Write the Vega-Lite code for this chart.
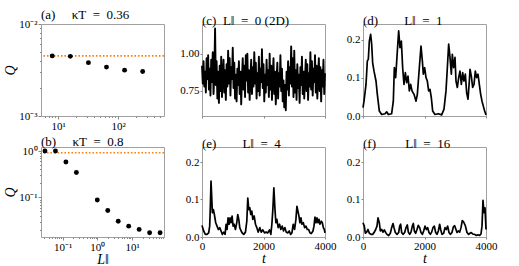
{
  "$schema": "https://vega.github.io/schema/vega-lite/v6.json",
  "padding": {"left": 3, "top": 8, "right": 2, "bottom": 2},
  "bounds": "flush",
  "columns": 3,
  "spacing": {"row": 31, "column": 38},
  "config": {
    "font": "Liberation Serif, serif",
    "view": {"stroke": "#a0a0a0", "strokeWidth": 1},
    "axis": {"domain": false, "grid": false, "labelFont": "Liberation Serif, serif", "labelFontSize": 11, "labelColor": "#000", "tickColor": "#888", "tickSize": 2, "labelPadding": 1, "labelOverlap": false, "labelFlush": false, "titleFont": "Liberation Serif, serif", "titleFontSize": 14, "titleFontWeight": "normal", "titleFontStyle": "italic", "titleColor": "#000"},
    "title": {"font": "Liberation Serif, serif", "fontSize": 13, "anchor": "start", "frame": "group", "offset": -4, "fontWeight": "normal", "color": "#000"}
  },
  "datasets": {
    "a": [{"L": 8, "Q": 0.0045}, {"L": 16, "Q": 0.00445}, {"L": 32, "Q": 0.0038}, {"L": 64, "Q": 0.0034}, {"L": 128, "Q": 0.00315}, {"L": 256, "Q": 0.00305}],
    "aRef": [{"Q": 0.0045}],
    "b": [{"L": 0.03125, "Q": 1.0}, {"L": 0.0625, "Q": 1.0}, {"L": 0.125, "Q": 0.58}, {"L": 0.25, "Q": 0.343}, {"L": 1, "Q": 0.088}, {"L": 2, "Q": 0.052}, {"L": 4, "Q": 0.0306}, {"L": 8, "Q": 0.024}, {"L": 16, "Q": 0.0204}, {"L": 32, "Q": 0.0173}, {"L": 64, "Q": 0.0173}],
    "bRef": [{"Q": 0.92}],
    "c": [{"t":0,"v":0.92},{"t":25,"v":0.80},{"t":50,"v":0.95},{"t":75,"v":0.78},{"t":100,"v":0.88},{"t":125,"v":0.74},{"t":150,"v":0.97},{"t":175,"v":0.83},{"t":200,"v":0.99},{"t":225,"v":0.76},{"t":250,"v":0.90},{"t":275,"v":0.72},{"t":300,"v":0.96},{"t":325,"v":0.81},{"t":350,"v":1.01},{"t":375,"v":0.73},{"t":400,"v":0.86},{"t":425,"v":1.17},{"t":450,"v":0.79},{"t":475,"v":0.95},{"t":500,"v":0.70},{"t":525,"v":0.88},{"t":550,"v":0.67},{"t":575,"v":0.92},{"t":600,"v":0.75},{"t":625,"v":0.98},{"t":650,"v":0.71},{"t":675,"v":0.84},{"t":700,"v":0.96},{"t":725,"v":0.74},{"t":750,"v":0.89},{"t":775,"v":0.69},{"t":800,"v":0.93},{"t":825,"v":0.78},{"t":850,"v":1.02},{"t":875,"v":0.80},{"t":900,"v":0.97},{"t":925,"v":0.72},{"t":950,"v":0.91},{"t":975,"v":0.83},{"t":1000,"v":1.04},{"t":1025,"v":0.77},{"t":1050,"v":0.94},{"t":1075,"v":0.70},{"t":1100,"v":0.86},{"t":1125,"v":0.68},{"t":1150,"v":0.90},{"t":1175,"v":0.79},{"t":1200,"v":0.95},{"t":1225,"v":0.73},{"t":1250,"v":0.88},{"t":1275,"v":0.66},{"t":1300,"v":0.84},{"t":1325,"v":0.97},{"t":1350,"v":0.76},{"t":1375,"v":0.92},{"t":1400,"v":0.71},{"t":1425,"v":0.99},{"t":1450,"v":0.82},{"t":1475,"v":1.00},{"t":1500,"v":0.74},{"t":1525,"v":0.89},{"t":1550,"v":0.69},{"t":1575,"v":0.85},{"t":1600,"v":0.96},{"t":1625,"v":0.73},{"t":1650,"v":0.91},{"t":1675,"v":0.78},{"t":1700,"v":1.01},{"t":1725,"v":0.80},{"t":1750,"v":0.94},{"t":1775,"v":0.70},{"t":1800,"v":0.87},{"t":1825,"v":0.75},{"t":1850,"v":0.98},{"t":1875,"v":0.72},{"t":1900,"v":0.90},{"t":1925,"v":0.81},{"t":1950,"v":1.03},{"t":1975,"v":0.77},{"t":2000,"v":0.93},{"t":2025,"v":0.68},{"t":2050,"v":0.86},{"t":2075,"v":0.74},{"t":2100,"v":0.96},{"t":2125,"v":0.79},{"t":2150,"v":0.89},{"t":2175,"v":0.71},{"t":2200,"v":1.00},{"t":2225,"v":0.76},{"t":2250,"v":0.92},{"t":2275,"v":0.69},{"t":2300,"v":0.85},{"t":2325,"v":0.97},{"t":2350,"v":0.73},{"t":2375,"v":0.88},{"t":2400,"v":0.66},{"t":2425,"v":0.83},{"t":2450,"v":0.94},{"t":2475,"v":0.70},{"t":2500,"v":0.87},{"t":2525,"v":0.78},{"t":2550,"v":0.99},{"t":2575,"v":0.75},{"t":2600,"v":0.90},{"t":2625,"v":0.68},{"t":2650,"v":0.82},{"t":2675,"v":0.64},{"t":2700,"v":0.79},{"t":2725,"v":0.62},{"t":2750,"v":0.88},{"t":2775,"v":0.76},{"t":2800,"v":0.95},{"t":2825,"v":0.72},{"t":2850,"v":0.91},{"t":2875,"v":0.80},{"t":2900,"v":1.05},{"t":2925,"v":0.78},{"t":2950,"v":0.97},{"t":2975,"v":0.71},{"t":3000,"v":1.02},{"t":3025,"v":0.74},{"t":3050,"v":0.89},{"t":3075,"v":0.69},{"t":3100,"v":0.93},{"t":3125,"v":0.77},{"t":3150,"v":0.86},{"t":3175,"v":0.67},{"t":3200,"v":0.91},{"t":3225,"v":0.79},{"t":3250,"v":0.98},{"t":3275,"v":0.73},{"t":3300,"v":0.88},{"t":3325,"v":0.70},{"t":3350,"v":0.84},{"t":3375,"v":0.96},{"t":3400,"v":0.75},{"t":3425,"v":0.93},{"t":3450,"v":0.69},{"t":3475,"v":0.87},{"t":3500,"v":0.78},{"t":3525,"v":1.01},{"t":3550,"v":0.76},{"t":3575,"v":0.95},{"t":3600,"v":0.72},{"t":3625,"v":0.90},{"t":3650,"v":0.81},{"t":3675,"v":0.99},{"t":3700,"v":0.74},{"t":3725,"v":0.92},{"t":3750,"v":0.70},{"t":3775,"v":0.86},{"t":3800,"v":0.97},{"t":3825,"v":0.75},{"t":3850,"v":0.91},{"t":3875,"v":0.68},{"t":3900,"v":0.89},{"t":3925,"v":0.78},{"t":3950,"v":0.96},{"t":3975,"v":0.73},{"t":4000,"v":0.87}],
    "d": [{"t":0,"v":0.022},{"t":33,"v":0.039},{"t":98,"v":0.083},{"t":141,"v":0.145},{"t":173,"v":0.149},{"t":206,"v":0.197},{"t":249,"v":0.215},{"t":282,"v":0.189},{"t":314,"v":0.140},{"t":358,"v":0.118},{"t":423,"v":0.092},{"t":466,"v":0.057},{"t":531,"v":0.013},{"t":607,"v":0.004},{"t":715,"v":0.006},{"t":770,"v":0.011},{"t":824,"v":0.004},{"t":932,"v":0.006},{"t":986,"v":0.039},{"t":1019,"v":0.127},{"t":1062,"v":0.101},{"t":1117,"v":0.171},{"t":1160,"v":0.224},{"t":1203,"v":0.180},{"t":1247,"v":0.197},{"t":1290,"v":0.127},{"t":1333,"v":0.083},{"t":1377,"v":0.114},{"t":1420,"v":0.088},{"t":1463,"v":0.105},{"t":1507,"v":0.066},{"t":1550,"v":0.083},{"t":1594,"v":0.066},{"t":1659,"v":0.057},{"t":1724,"v":0.039},{"t":1767,"v":0.057},{"t":1832,"v":0.127},{"t":1886,"v":0.184},{"t":1930,"v":0.145},{"t":1962,"v":0.110},{"t":2005,"v":0.127},{"t":2049,"v":0.101},{"t":2092,"v":0.092},{"t":2135,"v":0.066},{"t":2179,"v":0.070},{"t":2222,"v":0.048},{"t":2266,"v":0.013},{"t":2341,"v":0.004},{"t":2450,"v":0.006},{"t":2558,"v":0.003},{"t":2634,"v":0.018},{"t":2699,"v":0.066},{"t":2743,"v":0.127},{"t":2786,"v":0.189},{"t":2829,"v":0.154},{"t":2873,"v":0.110},{"t":2905,"v":0.162},{"t":2948,"v":0.127},{"t":2992,"v":0.154},{"t":3024,"v":0.092},{"t":3068,"v":0.075},{"t":3111,"v":0.101},{"t":3154,"v":0.118},{"t":3198,"v":0.083},{"t":3241,"v":0.114},{"t":3284,"v":0.092},{"t":3328,"v":0.110},{"t":3371,"v":0.061},{"t":3415,"v":0.044},{"t":3458,"v":0.092},{"t":3480,"v":0.123},{"t":3523,"v":0.105},{"t":3566,"v":0.075},{"t":3610,"v":0.083},{"t":3653,"v":0.118},{"t":3696,"v":0.101},{"t":3740,"v":0.110},{"t":3783,"v":0.083},{"t":3827,"v":0.057},{"t":3870,"v":0.039},{"t":3913,"v":0.026},{"t":3957,"v":0.013},{"t":4000,"v":0.003}],
    "e": [{"t":0,"v":0.031},{"t":54,"v":0.016},{"t":109,"v":0.007},{"t":163,"v":0.007},{"t":217,"v":0.011},{"t":250,"v":0.029},{"t":272,"v":0.082},{"t":293,"v":0.149},{"t":315,"v":0.109},{"t":337,"v":0.065},{"t":370,"v":0.073},{"t":402,"v":0.060},{"t":446,"v":0.038},{"t":489,"v":0.029},{"t":533,"v":0.020},{"t":576,"v":0.025},{"t":620,"v":0.016},{"t":663,"v":0.007},{"t":707,"v":0.013},{"t":750,"v":0.007},{"t":783,"v":0.034},{"t":815,"v":0.020},{"t":848,"v":0.051},{"t":880,"v":0.034},{"t":913,"v":0.051},{"t":946,"v":0.038},{"t":978,"v":0.056},{"t":1011,"v":0.029},{"t":1044,"v":0.034},{"t":1087,"v":0.020},{"t":1130,"v":0.038},{"t":1163,"v":0.060},{"t":1196,"v":0.047},{"t":1228,"v":0.025},{"t":1272,"v":0.016},{"t":1315,"v":0.010},{"t":1359,"v":0.007},{"t":1413,"v":0.013},{"t":1457,"v":0.042},{"t":1489,"v":0.104},{"t":1522,"v":0.073},{"t":1554,"v":0.078},{"t":1587,"v":0.060},{"t":1620,"v":0.069},{"t":1652,"v":0.047},{"t":1696,"v":0.056},{"t":1739,"v":0.034},{"t":1783,"v":0.025},{"t":1826,"v":0.013},{"t":1881,"v":0.025},{"t":1924,"v":0.013},{"t":1978,"v":0.019},{"t":2033,"v":0.011},{"t":2087,"v":0.013},{"t":2141,"v":0.011},{"t":2196,"v":0.019},{"t":2239,"v":0.007},{"t":2272,"v":0.034},{"t":2304,"v":0.073},{"t":2337,"v":0.131},{"t":2370,"v":0.078},{"t":2402,"v":0.038},{"t":2435,"v":0.047},{"t":2478,"v":0.025},{"t":2522,"v":0.034},{"t":2565,"v":0.020},{"t":2609,"v":0.029},{"t":2652,"v":0.016},{"t":2696,"v":0.025},{"t":2739,"v":0.013},{"t":2794,"v":0.011},{"t":2837,"v":0.016},{"t":2881,"v":0.007},{"t":2924,"v":0.011},{"t":2967,"v":0.034},{"t":3011,"v":0.020},{"t":3054,"v":0.047},{"t":3087,"v":0.082},{"t":3120,"v":0.069},{"t":3152,"v":0.056},{"t":3185,"v":0.038},{"t":3218,"v":0.051},{"t":3250,"v":0.034},{"t":3294,"v":0.038},{"t":3337,"v":0.025},{"t":3381,"v":0.029},{"t":3424,"v":0.020},{"t":3468,"v":0.020},{"t":3511,"v":0.011},{"t":3554,"v":0.009},{"t":3609,"v":0.016},{"t":3641,"v":0.029},{"t":3674,"v":0.053},{"t":3707,"v":0.038},{"t":3739,"v":0.051},{"t":3772,"v":0.038},{"t":3805,"v":0.047},{"t":3837,"v":0.034},{"t":3881,"v":0.042},{"t":3913,"v":0.038},{"t":3946,"v":0.025},{"t":3978,"v":0.020},{"t":4000,"v":0.011}],
    "f": [{"t":0,"v":0.038},{"t":43,"v":0.029},{"t":76,"v":0.010},{"t":119,"v":0.013},{"t":163,"v":0.020},{"t":206,"v":0.010},{"t":260,"v":0.007},{"t":314,"v":0.007},{"t":369,"v":0.013},{"t":412,"v":0.020},{"t":455,"v":0.029},{"t":488,"v":0.051},{"t":531,"v":0.038},{"t":564,"v":0.016},{"t":607,"v":0.020},{"t":650,"v":0.013},{"t":694,"v":0.019},{"t":737,"v":0.012},{"t":780,"v":0.007},{"t":835,"v":0.004},{"t":889,"v":0.010},{"t":932,"v":0.025},{"t":976,"v":0.036},{"t":1008,"v":0.025},{"t":1051,"v":0.012},{"t":1106,"v":0.007},{"t":1160,"v":0.012},{"t":1192,"v":0.029},{"t":1225,"v":0.034},{"t":1257,"v":0.012},{"t":1301,"v":0.007},{"t":1355,"v":0.012},{"t":1398,"v":0.025},{"t":1442,"v":0.032},{"t":1474,"v":0.013},{"t":1518,"v":0.007},{"t":1561,"v":0.013},{"t":1604,"v":0.029},{"t":1637,"v":0.036},{"t":1669,"v":0.016},{"t":1713,"v":0.010},{"t":1756,"v":0.020},{"t":1799,"v":0.031},{"t":1843,"v":0.025},{"t":1886,"v":0.012},{"t":1930,"v":0.007},{"t":1973,"v":0.016},{"t":2016,"v":0.029},{"t":2060,"v":0.020},{"t":2103,"v":0.025},{"t":2146,"v":0.012},{"t":2190,"v":0.007},{"t":2233,"v":0.013},{"t":2276,"v":0.025},{"t":2320,"v":0.029},{"t":2363,"v":0.012},{"t":2406,"v":0.007},{"t":2450,"v":0.016},{"t":2493,"v":0.034},{"t":2526,"v":0.020},{"t":2569,"v":0.007},{"t":2623,"v":0.010},{"t":2667,"v":0.025},{"t":2710,"v":0.020},{"t":2753,"v":0.029},{"t":2797,"v":0.012},{"t":2840,"v":0.007},{"t":2894,"v":0.012},{"t":2938,"v":0.027},{"t":2981,"v":0.030},{"t":3024,"v":0.020},{"t":3057,"v":0.012},{"t":3100,"v":0.016},{"t":3144,"v":0.013},{"t":3187,"v":0.025},{"t":3230,"v":0.044},{"t":3274,"v":0.040},{"t":3328,"v":0.030},{"t":3382,"v":0.012},{"t":3436,"v":0.007},{"t":3480,"v":0.010},{"t":3523,"v":0.012},{"t":3566,"v":0.008},{"t":3631,"v":0.007},{"t":3686,"v":0.004},{"t":3740,"v":0.006},{"t":3794,"v":0.004},{"t":3837,"v":0.008},{"t":3870,"v":0.029},{"t":3902,"v":0.098},{"t":3935,"v":0.065},{"t":3967,"v":0.078},{"t":4000,"v":0.020}]
  },
  "concat": [
    {
      "width": 123, "height": 92,
      "title": {"text": "(a)\u00a0\u00a0\u00a0\u00a0\u00a0κT\u00a0\u00a0=\u00a0\u00a00.36"},
      "encoding": {
        "y": {"field": "Q", "type": "quantitative", "scale": {"type": "log", "domain": [0.001, 0.01], "nice": false},
          "axis": {"title": "Q", "titlePadding": 1, "values": [0.001, 0.002, 0.003, 0.004, 0.005, 0.006, 0.007, 0.008, 0.009, 0.01],
            "labelExpr": "datum.value == 0.001 ? '10⁻³' : datum.value == 0.01 ? '10⁻²' : ''",
            "tickSize": {"condition": {"test": "datum.value == 0.001 || datum.value == 0.01", "value": 3}, "value": 1.5}}}
      },
      "layer": [
        {"data": {"name": "aRef"}, "mark": {"type": "rule", "color": "#ff7f0e", "strokeDash": [1.6, 1.9], "strokeWidth": 1.6}},
        {"data": {"name": "a"}, "mark": {"type": "circle", "color": "#000", "opacity": 1, "size": 24},
          "encoding": {"x": {"field": "L", "type": "quantitative", "scale": {"type": "log", "domain": [5.2, 580], "nice": false},
            "axis": {"title": null, "values": [6, 7, 8, 9, 10, 20, 30, 40, 50, 60, 70, 80, 90, 100, 200, 300, 400, 500],
              "labelExpr": "datum.value == 10 ? '10¹' : datum.value == 100 ? '10²' : ''",
              "tickSize": {"condition": {"test": "datum.value == 10 || datum.value == 100", "value": 3}, "value": 1.5}}}}}
      ]
    },
    {
      "width": 123, "height": 92,
      "title": {"text": "(c)\u00a0\u00a0L‖\u00a0\u00a0=\u00a0\u00a00\u00a0(2D)"},
      "data": {"name": "c"},
      "mark": {"type": "line", "color": "#000", "strokeWidth": 1.9, "strokeJoin": "round"},
      "encoding": {
        "x": {"field": "t", "type": "quantitative", "scale": {"domain": [0, 4000], "nice": false}, "axis": {"title": null, "values": [0, 2000, 4000], "labels": false}},
        "y": {"field": "v", "type": "quantitative", "scale": {"domain": [0.582, 1.2], "nice": false, "zero": false}, "axis": {"title": null, "values": [0.75, 1.0], "format": ".2f"}}
      }
    },
    {
      "width": 123, "height": 92,
      "title": {"text": "(d)\u00a0\u00a0\u00a0\u00a0\u00a0\u00a0\u00a0\u00a0L‖\u00a0\u00a0=\u00a0\u00a01"},
      "data": {"name": "d"},
      "mark": {"type": "line", "color": "#000", "strokeWidth": 1.7, "strokeJoin": "round"},
      "encoding": {
        "x": {"field": "t", "type": "quantitative", "scale": {"domain": [0, 4000], "nice": false}, "axis": {"title": null, "values": [0, 2000, 4000], "labels": false}},
        "y": {"field": "v", "type": "quantitative", "scale": {"domain": [0, 0.242], "nice": false}, "axis": {"title": null, "values": [0, 0.1, 0.2], "format": ".1f"}}
      }
    },
    {
      "width": 123, "height": 90,
      "title": {"text": "(b)\u00a0\u00a0\u00a0\u00a0\u00a0κT\u00a0\u00a0=\u00a0\u00a00.8"},
      "encoding": {
        "y": {"field": "Q", "type": "quantitative", "scale": {"type": "log", "domain": [0.014, 1.22], "nice": false},
          "axis": {"title": "Q", "titlePadding": 1, "values": [0.02, 0.03, 0.04, 0.05, 0.06, 0.07, 0.08, 0.09, 0.1, 0.2, 0.3, 0.4, 0.5, 0.6, 0.7, 0.8, 0.9, 1],
            "labelExpr": "datum.value == 0.1 ? '10⁻¹' : datum.value == 1 ? '10⁰' : ''",
            "tickSize": {"condition": {"test": "datum.value == 0.1 || datum.value == 1", "value": 3}, "value": 1.5}}}
      },
      "layer": [
        {"data": {"name": "bRef"}, "mark": {"type": "rule", "color": "#ff7f0e", "strokeDash": [1.6, 1.9], "strokeWidth": 1.6}},
        {"data": {"name": "b"}, "mark": {"type": "circle", "color": "#000", "opacity": 1, "size": 24},
          "encoding": {"x": {"field": "L", "type": "quantitative", "scale": {"type": "log", "domain": [0.024, 83], "nice": false},
            "axis": {"title": "L‖", "titlePadding": 0, "values": [0.03, 0.04, 0.05, 0.06, 0.07, 0.08, 0.09, 0.1, 0.2, 0.3, 0.4, 0.5, 0.6, 0.7, 0.8, 0.9, 1, 2, 3, 4, 5, 6, 7, 8, 9, 10, 20, 30, 40, 50, 60, 70, 80],
              "labelExpr": "datum.value == 0.1 ? '10⁻¹' : datum.value == 1 ? '10⁰' : datum.value == 10 ? '10¹' : ''",
              "tickSize": {"condition": {"test": "datum.value == 0.1 || datum.value == 1 || datum.value == 10", "value": 3}, "value": 1.5}}}}}
      ]
    },
    {
      "width": 123, "height": 90,
      "title": {"text": "(e)\u00a0\u00a0\u00a0\u00a0\u00a0\u00a0\u00a0\u00a0L‖\u00a0\u00a0=\u00a0\u00a04"},
      "data": {"name": "e"},
      "mark": {"type": "line", "color": "#000", "strokeWidth": 1.7, "strokeJoin": "round"},
      "encoding": {
        "x": {"field": "t", "type": "quantitative", "scale": {"domain": [0, 4000], "nice": false}, "axis": {"title": "t", "titlePadding": 0, "values": [0, 2000, 4000], "format": "d"}},
        "y": {"field": "v", "type": "quantitative", "scale": {"domain": [0, 0.24], "nice": false}, "axis": {"title": null, "values": [0, 0.1, 0.2], "format": ".1f"}}
      }
    },
    {
      "width": 123, "height": 90,
      "title": {"text": "(f)\u00a0\u00a0\u00a0\u00a0\u00a0\u00a0\u00a0\u00a0\u00a0L‖\u00a0\u00a0=\u00a0\u00a016"},
      "data": {"name": "f"},
      "mark": {"type": "line", "color": "#000", "strokeWidth": 1.7, "strokeJoin": "round"},
      "encoding": {
        "x": {"field": "t", "type": "quantitative", "scale": {"domain": [0, 4000], "nice": false}, "axis": {"title": "t", "titlePadding": 0, "values": [0, 2000, 4000], "format": "d"}},
        "y": {"field": "v", "type": "quantitative", "scale": {"domain": [0, 0.24], "nice": false}, "axis": {"title": null, "values": [0, 0.1, 0.2], "format": ".1f"}}
      }
    }
  ]
}
